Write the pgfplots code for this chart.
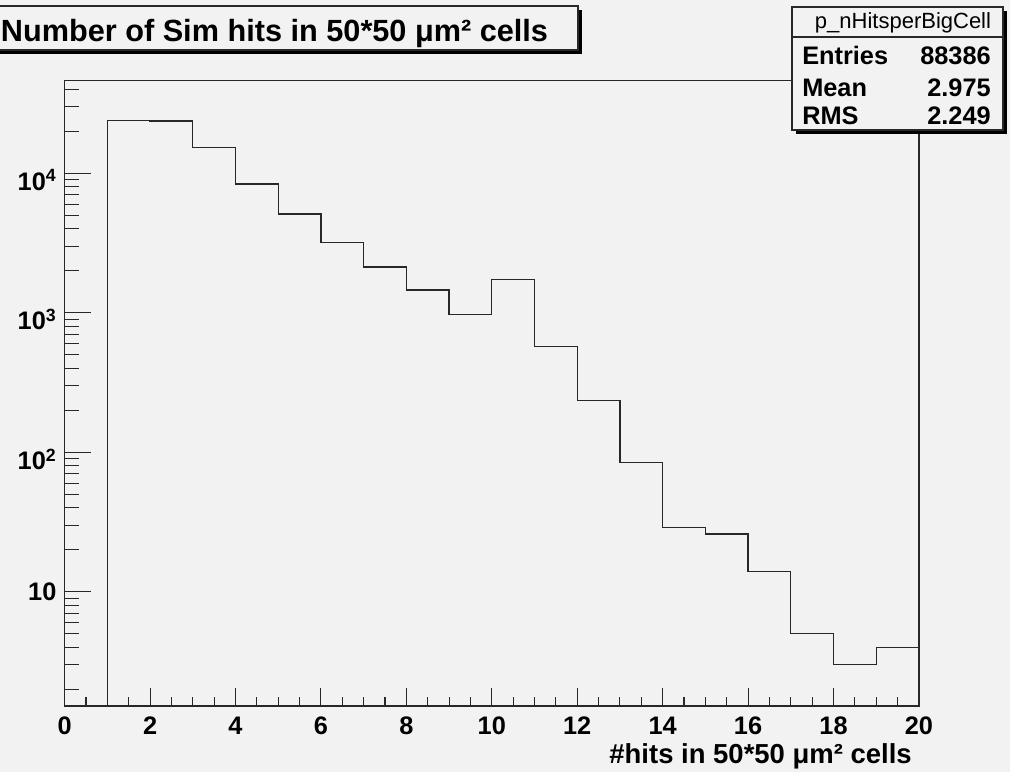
\documentclass[border=0pt]{standalone}
\usepackage{fontspec}
\setmainfont{Liberation Sans}
\usepackage{pgfplots}
\pgfplotsset{compat=1.18}
\definecolor{rootbg}{RGB}{242,242,242}
\definecolor{rootline}{RGB}{40,40,40}

% histogram bin contents (left bin edge, count)
\pgfplotstableread{
x     y
1     0.1
1     24000
2     23700
3     15300
4     8370
5     5100
6     3210
7     2130
8     1455
9     968
10    1725
11    570
12    234
13    85
14    29
15    26
16    14
17    5
18    3
19    4
20    4
}\hitsdata

\begin{document}
\begin{tikzpicture}[x=0.75pt, y=0.75pt]
\useasboundingbox (0,0) rectangle (1010,772);
\fill[rootbg] (0,0) rectangle (1010,772);

% x axis ticks and labels
\begin{semilogyaxis}[
  at={(48.5pt,49.5pt)}, anchor=south west,
  scale only axis, width=640.7pt, height=469pt,
  xmin=0, xmax=20, ymin=1.52, ymax=46100,
  tick align=inside, tick pos=left,
  axis line style={rootline, line width=0.9pt},
  every tick/.style={rootline, line width=0.8pt},
  tick label style={font=\bfseries\fontsize{19}{22}\selectfont, inner sep=0pt},
  ytick=\empty,
  xtick={0,2,4,6,8,10,12,14,16,18,20},
  xticklabels={0,2,4,6,8,10,12,14,16,18,20},
  minor x tick num=3,
  major tick length=13.5pt, minor tick length=6.75pt,
  xticklabel style={anchor=base, yshift=-21.5pt},
]
\end{semilogyaxis}

% y axis ticks, labels and the histogram
\begin{semilogyaxis}[
  at={(48.5pt,49.5pt)}, anchor=south west,
  scale only axis, width=640.7pt, height=469pt,
  xmin=0, xmax=20, ymin=1.52, ymax=46100,
  tick align=inside, tick pos=left,
  axis line style={rootline, line width=0.9pt},
  every tick/.style={rootline, line width=0.8pt},
  tick label style={font=\bfseries\fontsize{19}{22}\selectfont, inner sep=0pt},
  xtick=\empty,
  ytick={10,100,1000,10000},
  yticklabels={10,\raisebox{-6pt}{10\textsuperscript{2}},\raisebox{-6pt}{10\textsuperscript{3}},\raisebox{-6pt}{10\textsuperscript{4}}},
  minor ytick={2,3,4,5,6,7,8,9,20,30,40,50,60,70,80,90,200,300,400,500,600,700,800,900,2000,3000,4000,5000,6000,7000,8000,9000,20000,30000,40000},
  major tick length=19.5pt, minor tick length=10.5pt,
  yticklabel style={anchor=base east, xshift=-6pt, yshift=-6.8pt},
]
\addplot[const plot mark left, rootline, line width=0.9pt, mark=none] table[x=x, y=y] {\hitsdata};
\end{semilogyaxis}

% title box
\fill[black] (-25,762) rectangle (582,718);
\filldraw[fill=rootbg, draw=rootline, line width=0.9pt] (-29,766) rectangle (578,722);
\node[anchor=base, inner sep=0pt, font=\bfseries\fontsize{23}{27}\selectfont] at (274.5,730.5) {Number of Sim hits in 50*50 μm² cells};

% statistics box
\fill[black] (796,761) rectangle (1007,638);
\filldraw[fill=rootbg, draw=rootline, line width=0.9pt] (792,765) rectangle (1003,642);
\draw[rootline, line width=0.9pt] (792,735) -- (1003,735);
\node[anchor=base, inner sep=0pt, font=\fontsize{16.5}{19}\selectfont] at (903,743.5) {p\_nHitsperBigCell};
\begin{scope}[every node/.style={inner sep=0pt, font=\bfseries\fontsize{19}{22}\selectfont}]
\node[anchor=base west] at (802,707) {Entries};
\node[anchor=base east] at (991,707) {88386};
\node[anchor=base west] at (802,675) {Mean};
\node[anchor=base east] at (991,675) {2.975};
\node[anchor=base west] at (802,647) {RMS};
\node[anchor=base east] at (991,647) {2.249};
\end{scope}

% x axis title
\node[anchor=base east, inner sep=0pt, font=\bfseries\fontsize{20.6}{24}\selectfont] at (912,9) {\#hits in 50*50 μm² cells};
\end{tikzpicture}
\end{document}
